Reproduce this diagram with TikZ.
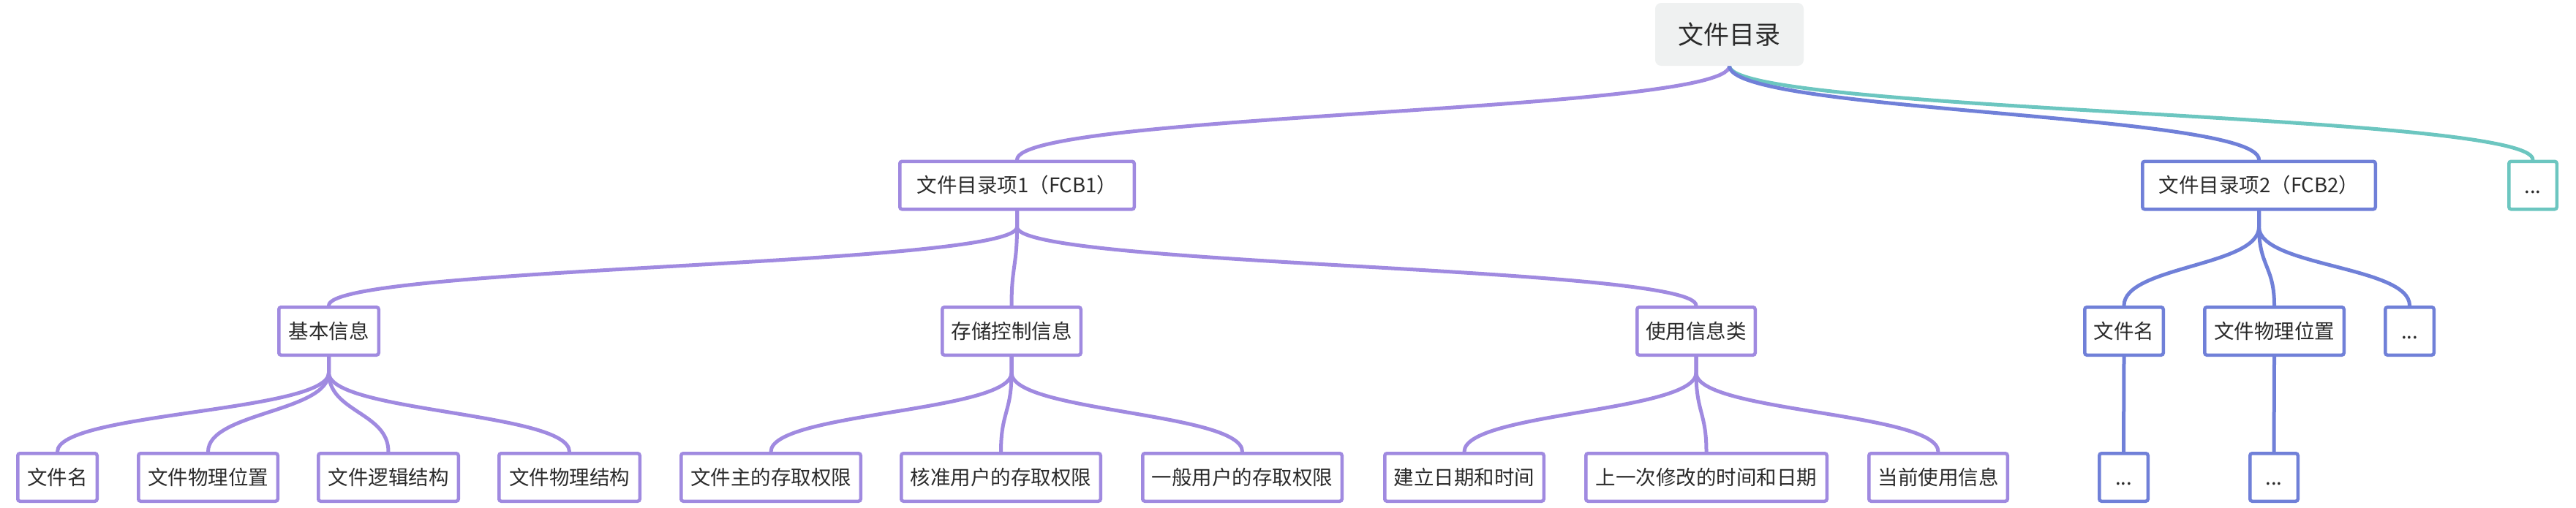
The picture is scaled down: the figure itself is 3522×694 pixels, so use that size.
\documentclass[tikz,border=0pt]{standalone}
\usepackage{fontspec}
\setmainfont{Noto Sans CJK SC}
\usetikzlibrary{backgrounds}
\definecolor{cpurple}{HTML}{A08AE0}
\definecolor{cblue}{HTML}{7080D8}
\definecolor{cteal}{HTML}{6CC6C0}
\definecolor{rootfill}{HTML}{EFF1F1}
\definecolor{txt}{HTML}{2B2B2B}
\begin{document}
\begin{tikzpicture}[x=1pt,y=-1pt,
  mbox/.style={draw, line width=4.5pt, fill=white, rounded corners=3pt,
    minimum height=65.5pt, inner xsep=0pt, inner ysep=0pt, text=txt,
    font=\fontsize{27.5}{33}\selectfont, anchor=center},
  pnode/.style={mbox, draw=cpurple},
  bnode/.style={mbox, draw=cblue},
  tnode/.style={mbox, draw=cteal},
  link/.style={line width=5pt, line cap=round, line join=round},
  curve/.style={to path={-- ++(0,22) .. controls +(0,54) and +(0,-54) .. (\tikztotarget)}},
  rcurve/.style={to path={.. controls +(0,64) and +(0,-64) .. (\tikztotarget)}},
]
\useasboundingbox (0,0) rectangle (3522,694);

% root
\node[fill=rootfill, rounded corners=8pt, minimum width=203pt, minimum height=86pt,
  inner sep=0pt, text=txt, font=\fontsize{35}{40}\selectfont] (root) at (2364.5,47) {文件目录};

% level 1
\node[pnode, minimum width=320.5pt] (fcb1) at (1390.5,253.5) {文件目录项1（FCB1）};
\node[bnode, minimum width=318.5pt] (fcb2) at (3088.5,253.5) {文件目录项2（FCB2）};
\node[tnode, minimum width=65.5pt] (more) at (3463,253.5) {\vphantom{文}...};

% level 2
\node[pnode, minimum width=136.5pt] (basic) at (449.5,453) {基本信息};
\node[pnode, minimum width=189.5pt] (store) at (1383,453) {存储控制信息};
\node[pnode, minimum width=161.5pt] (usage) at (2319,453) {使用信息类};
\node[bnode, minimum width=107.5pt] (fname) at (2904,453) {文件名};
\node[bnode, minimum width=190.5pt] (floc) at (3109.5,453) {文件物理位置};
\node[bnode, minimum width=66.5pt] (fmore) at (3294.5,453) {\vphantom{文}...};

% level 3
\node[pnode, minimum width=108.5pt] (b1) at (78.5,653) {文件名};
\node[pnode, minimum width=190.5pt] (b2) at (284.5,653) {文件物理位置};
\node[pnode, minimum width=191.5pt] (b3) at (531,653) {文件逻辑结构};
\node[pnode, minimum width=192.5pt] (b4) at (778.5,653) {文件物理结构};
\node[pnode, minimum width=245.5pt] (s1) at (1054,653) {文件主的存取权限};
\node[pnode, minimum width=272.5pt] (s2) at (1368.5,653) {核准用户的存取权限};
\node[pnode, minimum width=272.5pt] (s3) at (1698.5,653) {一般用户的存取权限};
\node[pnode, minimum width=217.5pt] (u1) at (2002,653) {建立日期和时间};
\node[pnode, minimum width=329.5pt] (u2) at (2333,653) {上一次修改的时间和日期};
\node[pnode, minimum width=189.5pt] (u3) at (2650,653) {当前使用信息};
\node[bnode, minimum width=66.5pt] (d1) at (2903.5,653) {\vphantom{文}...};
\node[bnode, minimum width=65.5pt] (d2) at (3109,653) {\vphantom{文}...};

\begin{pgfonlayer}{background}
  \draw[link, cpurple] (root.south) to[rcurve] (fcb1.north);
  \draw[link, cteal] (root.south) to[rcurve] (more.north);
  \draw[link, cblue] (root.south) to[rcurve] (fcb2.north);

  \draw[link, cpurple] (fcb1.south) to[curve] (basic.north);
  \draw[link, cpurple] (fcb1.south) to[curve] (store.north);
  \draw[link, cpurple] (fcb1.south) to[curve] (usage.north);

  \draw[link, cblue] (fcb2.south) to[curve] (fname.north);
  \draw[link, cblue] (fcb2.south) to[curve] (floc.north);
  \draw[link, cblue] (fcb2.south) to[curve] (fmore.north);

  \foreach \c in {b1,b2,b3,b4} \draw[link, cpurple] (basic.south) to[curve] (\c.north);
  \foreach \c in {s1,s2,s3} \draw[link, cpurple] (store.south) to[curve] (\c.north);
  \foreach \c in {u1,u2,u3} \draw[link, cpurple] (usage.south) to[curve] (\c.north);

  \draw[link, cblue] (fname.south) -- (d1.north);
  \draw[link, cblue] (floc.south) -- (d2.north);
\end{pgfonlayer}
\end{tikzpicture}
\end{document}
